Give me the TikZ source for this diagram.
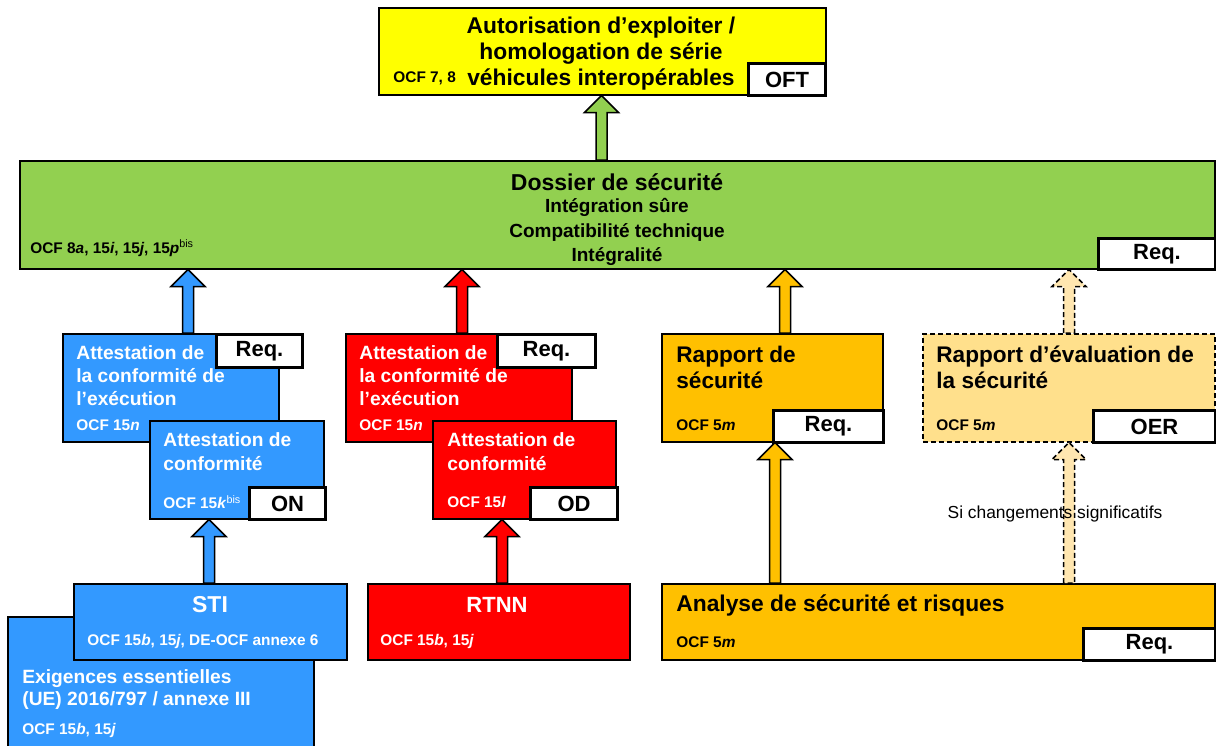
\documentclass[tikz,border=0pt]{standalone}
\usepackage{fontspec}
\setmainfont{Liberation Sans}
\usetikzlibrary{calc}
\definecolor{autyellow}{HTML}{FFFF00}
\definecolor{dosgreen}{HTML}{92D050}
\definecolor{stiblue}{HTML}{3399FF}
\definecolor{odred}{HTML}{FF0000}
\definecolor{rapgold}{HTML}{FFC000}
\definecolor{rappale}{HTML}{FFE08C}
\definecolor{arrpale}{HTML}{FFE6B0}
\newcommand{\fs}[2]{\fontsize{#1}{#2}\selectfont}
\newcommand{\blockup}[4]{%
	\draw[#1] let \p1 = (#3 -| #2), \p2 = (#4 -| #2) in
		(\x1-2.75pt, \y1) -- (\x1-2.75pt, \y2-8.5pt) -- (\x1-8.5pt, \y2-8.5pt) -- (\x1, \y2)
		-- (\x1+8.5pt, \y2-8.5pt) -- (\x1+2.75pt, \y2-8.5pt) -- (\x1+2.75pt, \y1) -- cycle;}
\tikzset{
	box/.style = {draw, line width = 0.75pt, anchor = north west, inner sep = 0pt},
	tag/.style = {draw, fill = white, line width = 1.5pt, anchor = north west, inner sep = 0pt, font = \bfseries\fs{11}{13}},
	head/.style = {anchor = north west, inner sep = 0pt, align = left, font = \bfseries\fs{9.6}{11.5}},
	ref/.style = {anchor = west, inner sep = 0pt, font = \bfseries\fs{7.7}{9}},
	up/.style = {draw, line width = 0.75pt, line join = miter},
	maybe/.style = {dash pattern = on 2.5pt off 1.5pt}
}
\begin{document}
\begin{tikzpicture}[x = 0.5pt, y = -0.5pt]
	\useasboundingbox (0, 0) rectangle (1216, 745);
	% boxes
	\node[box, fill = autyellow, minimum width = 223.5pt, minimum height = 43.5pt] (auth) at (378, 7) {};
	\node[box, fill = dosgreen, minimum width = 597.5pt, minimum height = 54pt] (dos) at (19, 160) {};
	\node[box, fill = stiblue, minimum width = 108pt, minimum height = 54pt] (attB) at (62, 333) {};
	\node[box, fill = stiblue, minimum width = 87pt, minimum height = 49pt] (confB) at (149, 420) {};
	\node[box, fill = stiblue, minimum width = 153pt, minimum height = 70pt] (exig) at (7, 616) {};
	\node[box, fill = stiblue, minimum width = 136.5pt, minimum height = 38pt] (sti) at (73, 583) {};
	\node[box, fill = odred, minimum width = 113pt, minimum height = 54pt] (attR) at (345, 333) {};
	\node[box, fill = odred, minimum width = 91.5pt, minimum height = 49pt] (confR) at (432, 420) {};
	\node[box, fill = odred, minimum width = 131pt, minimum height = 38pt] (rtnn) at (367, 583) {};
	\node[box, fill = rapgold, minimum width = 110.5pt, minimum height = 54pt] (rapS) at (661, 333) {};
	\node[box, maybe, fill = rappale, minimum width = 146pt, minimum height = 54pt] (rapE) at (922, 333) {};
	\node[box, fill = rapgold, minimum width = 276.5pt, minimum height = 38pt] (ana) at (661, 583) {};
	% texts
	\node[font = \bfseries\fs{11.4}{13}, align = center, inner sep = 0pt] (authT) at (601, 54) {Autorisation d’exploiter /\\homologation de série\\véhicules interopérables};
	\node[ref] (authR) at (393, 78) {OCF 7, 8};
	\node[font = \bfseries\fs{11.5}{13}, inner sep = 0pt] (dosT) at (617, 182) {Dossier de sécurité};
	\node[font = \bfseries\fs{9.5}{12.25}, align = center, inner sep = 0pt] (dosS) at (617, 232) {Intégration sûre\\Compatibilité technique\\Intégralité};
	\node[ref] (dosR) at (30, 248) {OCF 8\textit{a}, 15\textit{i}, 15\textit{j}, 15\textit{p}\textsuperscript{\normalfont bis}};
	\node[head, text = white] (attBT) at (76, 345) {Attestation de\\la conformité de\\l’exécution};
	\node[ref, text = white] (attBR) at (76, 425) {OCF 15\textit{n}};
	\node[head, text = white, font = \bfseries\fs{9.6}{12}] (confBT) at (163, 432) {Attestation de\\conformité};
	\node[ref, text = white] (confBR) at (163, 502) {OCF 15\textit{k}\textsuperscript{\normalfont bis}};
	\node[text = white, font = \bfseries\fs{11.5}{13}, inner sep = 0pt] (stiT) at (210, 605) {STI};
	\node[ref, text = white] (stiR) at (87, 642) {OCF 15\textit{b}, 15\textit{j}, DE-OCF annexe 6};
	\node[head, text = white, font = \bfseries\fs{9.6}{11}] (exigT) at (22, 669) {Exigences essentielles\\(UE) 2016/797 / annexe III};
	\node[ref, text = white] (exigR) at (22, 731) {OCF 15\textit{b}, 15\textit{j}};
	\node[head, text = white] (attRT) at (359, 345) {Attestation de\\la conformité de\\l’exécution};
	\node[ref, text = white] (attRR) at (359, 425) {OCF 15\textit{n}};
	\node[head, text = white, font = \bfseries\fs{9.6}{12}] (confRT) at (447, 432) {Attestation de\\conformité};
	\node[ref, text = white] (confRR) at (447, 502) {OCF 15\textit{l}};
	\node[text = white, font = \bfseries\fs{11}{13}, inner sep = 0pt] (rtnnT) at (497, 605) {RTNN};
	\node[ref, text = white] (rtnnR) at (380, 642) {OCF 15\textit{b}, 15\textit{j}};
	\node[head, font = \bfseries\fs{11.3}{13}] (rapST) at (676, 346) {Rapport de\\sécurité};
	\node[ref] (rapSR) at (676, 425) {OCF 5\textit{m}};
	\node[head, font = \bfseries\fs{11.3}{13}] (rapET) at (936, 346) {Rapport d’évaluation de\\la sécurité};
	\node[ref] (rapER) at (936, 425) {OCF 5\textit{m}};
	\node[ref, font = \bfseries\fs{11.4}{13}] (anaT) at (676, 605) {Analyse de sécurité et risques};
	\node[ref] (anaR) at (676, 642) {OCF 5\textit{m}};
	% tags
	\node[tag, minimum width = 38.5pt, minimum height = 16pt] (oft) at (747, 62) {OFT};
	\node[tag, minimum width = 58.5pt, minimum height = 15.5pt] (dosQ) at (1097, 237) {Req.};
	\node[tag, minimum width = 43pt, minimum height = 16.5pt] (attBQ) at (215, 333) {Req.};
	\node[tag, minimum width = 38pt, minimum height = 16pt] (on) at (248, 486) {ON};
	\node[tag, minimum width = 49pt, minimum height = 16.5pt] (attRQ) at (496, 333) {Req.};
	\node[tag, minimum width = 43.5pt, minimum height = 16pt] (od) at (529, 486) {OD};
	\node[tag, minimum width = 55pt, minimum height = 16pt] (rapSQ) at (772, 409) {Req.};
	\node[tag, minimum width = 61pt, minimum height = 16pt] (oer) at (1092, 409) {OER};
	\node[tag, minimum width = 66pt, minimum height = 16pt] (anaQ) at (1082, 627) {Req.};
	% arrows
	\coordinate (xg) at (601.5, 0);
	\coordinate (xb) at (188, 0);
	\coordinate (xr) at (462, 0);
	\coordinate (xo) at (785, 0);
	\coordinate (xe) at (1069, 0);
	\coordinate (xs) at (209, 0);
	\coordinate (xn) at (502, 0);
	\coordinate (xa) at (775, 0);
	\blockup{up, fill = dosgreen}{xg}{dos.north}{auth.south}
	\blockup{up, fill = stiblue}{xb}{attB.north}{dos.south}
	\blockup{up, fill = odred}{xr}{attR.north}{dos.south}
	\blockup{up, fill = rapgold}{xo}{rapS.north}{dos.south}
	\blockup{up, maybe, fill = arrpale}{xe}{rapE.north}{dos.south}
	\blockup{up, fill = stiblue}{xs}{sti.north}{confB.south}
	\blockup{up, fill = odred}{xn}{rtnn.north}{confR.south}
	\blockup{up, fill = rapgold}{xa}{ana.north}{rapS.south}
	\blockup{up, maybe, fill = arrpale}{xe}{ana.north}{rapE.south}
	\node[font = \fs{8.7}{10}, inner sep = 0pt] (cond) at (1055, 514) {Si changements significatifs};
\end{tikzpicture}
\end{document}
